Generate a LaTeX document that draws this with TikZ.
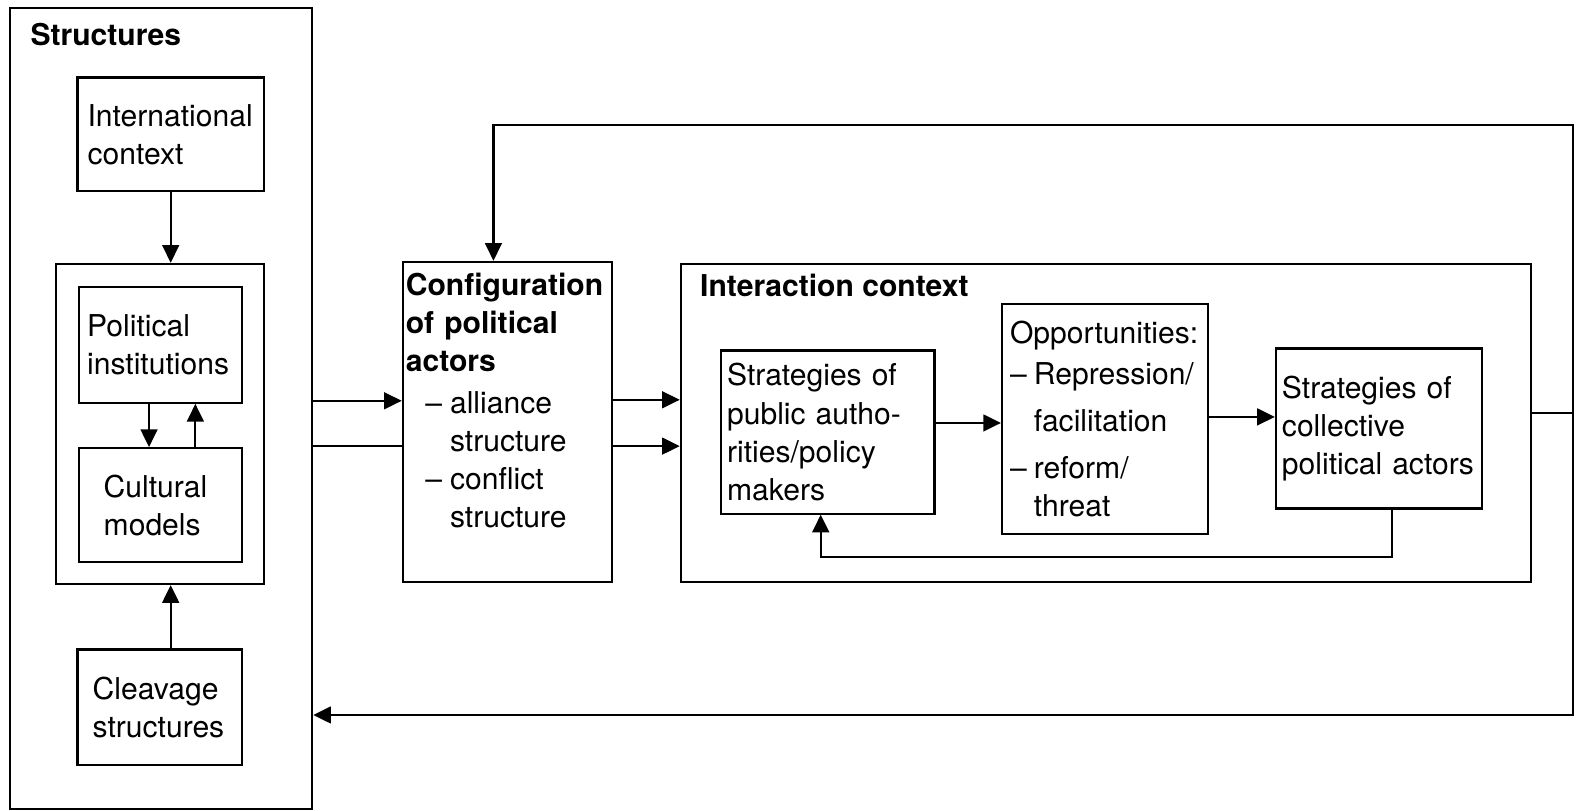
\documentclass[tikz,border=0pt]{standalone}
\usepackage{fontspec}
\setmainfont{TeX Gyre Heros}
\usepackage{tikz}
\usetikzlibrary{arrows.meta,calc}
\hyphenpenalty=10000

\begin{document}
\begin{tikzpicture}[x=0.02cm,y=-0.02cm,
		box/.style={draw,line width=1.2pt,inner sep=0pt,align=left,
			font=\fontsize{17}{21.5}\selectfont},
		title/.style={font=\fontsize{17}{21.5}\selectfont\bfseries,anchor=west,inner sep=0pt},
		arr/.style={line width=1.2pt,-{Triangle[length=10pt,width=9.5pt]}},
		line/.style={line width=1.2pt}]
		\useasboundingbox (0,0) rectangle (1568,805);
		% structures column
		\node[box,minimum width=6cm,minimum height=15.9cm] (structures) at (160,405.5) {};
		\node[title] (structlabel) at (30,34) {Structures};
		\node[box,minimum width=3.7cm,minimum height=2.26cm,text width=3.3cm] (intl) at (169.5,133.5) {International\\context};
		\node[box,minimum width=4.12cm,minimum height=6.36cm] (polcult) at (159,421) {};
		\node[box,minimum width=3.24cm,minimum height=2.3cm,text width=2.9cm] (polinst) at (159,342.5) {Political\\institutions};
		\node[box,minimum width=3.24cm,minimum height=2.26cm,text width=2.24cm] (cultural) at (159,501.5) {Cultural\\models};
		\node[box,minimum width=3.26cm,minimum height=2.3cm,text width=2.66cm] (cleavage) at (158.5,702.5) {Cleavage\\structures};
		\draw[arr] (intl.south) -- (intl.south |- polcult.north);
		\draw[arr] (cleavage.north -| intl.south) -- (intl.south |- polcult.south);
		\draw[arr] ($(polinst.south)+(-11,0)$) -- ($(polinst.south |- cultural.north)+(-11,0)$);
		\draw[arr] ($(cultural.north)+(35,0)$) -- ($(cultural.north |- polinst.south)+(35,0)$);
		% configuration of actors
		\node[box,minimum width=4.16cm,minimum height=6.36cm,text width=4.04cm] (config) at (504,419) {%
			\textbf{Configuration}\\\textbf{of political}\\\textbf{actors}\\[2pt]
			\hspace*{11pt}\makebox[14pt][l]{\textendash}alliance\\
			\hspace*{25pt}structure\\
			\hspace*{11pt}\makebox[14pt][l]{\textendash}conflict\\
			\hspace*{25pt}structure\\[3pt]\mbox{}};
		\draw[arr] (structures.east |- 0,398) -- (config.west |- 0,398);
		\draw[line] (structures.east |- 0,443) -- (config.west |- 0,443);
		% interaction context
		\node[box,minimum width=16.88cm,minimum height=6.32cm] (interaction) at (1098,420) {};
		\node[title] (interlabel) at (695,283) {Interaction context};
		\node[box,minimum width=4.24cm,minimum height=3.24cm,text width=4cm] (public) at (822,429) {Strategies of\\public autho-\\rities/policy\\makers};
		\node[box,minimum width=4.1cm,minimum height=4.56cm,text width=3.78cm] (opport) at (1097.5,416) {%
			Opportunities:\\[2pt]
			\makebox[13.5pt][l]{\textendash}Repression/\\[5pt]
			\hspace*{13.5pt}facilitation\\[5pt]
			\makebox[13.5pt][l]{\textendash}reform/\\
			\hspace*{13.5pt}threat};
		\node[box,minimum width=4.1cm,minimum height=3.18cm,text width=3.86cm] (collective) at (1369.5,425.5) {Strategies of\\collective\\political actors};
		\draw[arr] (config.east |- 0,397) -- (interaction.west |- 0,397);
		\draw[arr] (config.east |- 0,443) -- (interaction.west |- 0,443);
		\draw[arr] (public.east |- 0,420) -- (opport.west |- 0,420);
		\draw[arr] (opport.east |- 0,414) -- (collective.west |- 0,414);
		\draw[arr] (collective.south -| 1382,0) -- (1382,553) -| (public.south -| 815,0);
		% feedback loops
		\coordinate (fb) at (1562,410);
		\draw[line] (interaction.east |- fb) -- (fb);
		\draw[arr] (fb) |- (490,124) -- (config.north -| 490,0);
		\draw[arr] (fb) |- (structures.east |- 0,710);
	\end{tikzpicture}
\end{document}
